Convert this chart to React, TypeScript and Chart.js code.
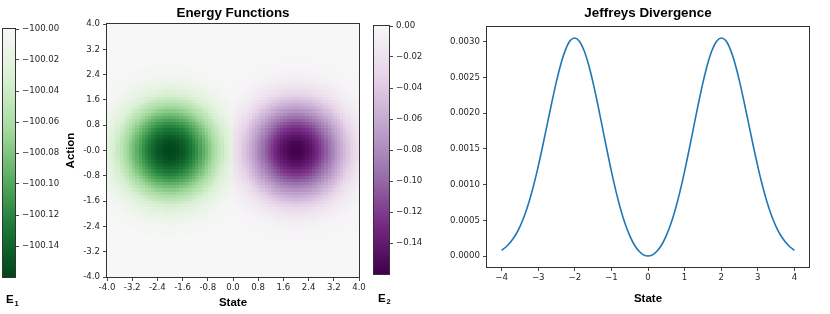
import React, { useEffect, useRef } from "react";
import { Chart, registerables } from "chart.js";

Chart.register(...registerables);

// ---------------- Energy Functions (heatmap) ----------------
const stateRange = [-4, 4];
const actionRange = [-4, 4];
const cellSize = 0.1;

const e1Center = [-2, 0];
const e2Center = [2, 0];

// radial profiles of the two energy wells
const profileRadius = [0, 0.25, 0.5, 0.75, 1, 1.25, 1.5, 1.75, 2, 2.25, 2.5, 2.75, 3, 3.5, 6];
const e1Profile = [
  -100.159, -100.155, -100.142, -100.123, -100.1, -100.076, -100.054, -100.034, -100.018,
  -100.009, -100.004, -100.0015, -100.0006, -100.0001, -100.0,
];
const e2Profile = [
  -0.159, -0.155, -0.142, -0.123, -0.1, -0.076, -0.054, -0.034, -0.018, -0.009, -0.004,
  -0.0015, -0.0006, -0.0001, 0.0,
];

const e1Limits = [-100.16, -100.0];
const e2Limits = [-0.16, 0.0];

const e1TickValues = [-100.14, -100.12, -100.1, -100.08, -100.06, -100.04, -100.02, -100.0];
const e2TickValues = [-0.14, -0.12, -0.1, -0.08, -0.06, -0.04, -0.02, 0.0];

const hmStateTicks = [-4, -3.2, -2.4, -1.6, -0.8, 0, 0.8, 1.6, 2.4, 3.2, 4];
const hmStateLabels = ["-4.0", "-3.2", "-2.4", "-1.6", "-0.8", "0.0", "0.8", "1.6", "2.4", "3.2", "4.0"];
const hmActionTicks = [-4, -3.2, -2.4, -1.6, -0.8, 0, 0.8, 1.6, 2.4, 3.2, 4];
const hmActionLabels = ["-4.0", "-3.2", "-2.4", "-1.6", "-0.8", "-0.0", "0.8", "1.6", "2.4", "3.2", "4.0"];

// ---------------- Jeffreys Divergence ----------------
const jdStates = [
  -4, -3.875, -3.75, -3.625, -3.5, -3.375, -3.25, -3.125, -3, -2.875, -2.75, -2.625, -2.5, -2.375,
  -2.25, -2.125, -2, -1.875, -1.75, -1.625, -1.5, -1.375, -1.25, -1.125, -1, -0.875, -0.75, -0.625,
  -0.5, -0.375, -0.25, -0.125, 0, 0.125, 0.25, 0.375, 0.5, 0.625, 0.75, 0.875, 1, 1.125, 1.25,
  1.375, 1.5, 1.625, 1.75, 1.875, 2, 2.125, 2.25, 2.375, 2.5, 2.625, 2.75, 2.875, 3, 3.125, 3.25,
  3.375, 3.5, 3.625, 3.75, 3.875, 4,
];
const jdValues = [
  0.00008, 0.00013, 0.0002, 0.000291, 0.000412, 0.000568, 0.00076, 0.00099, 0.001255, 0.001546,
  0.001852, 0.002158, 0.002446, 0.002696, 0.00289, 0.003013, 0.00305, 0.003005, 0.002878, 0.002679,
  0.002422, 0.002126, 0.001809, 0.00149, 0.001184, 0.000905, 0.000659, 0.000452, 0.000285,
  0.000158, 0.00007, 0.000017, 0.0,
  0.000017, 0.00007, 0.000158, 0.000285, 0.000452, 0.000659, 0.000905, 0.001184, 0.00149,
  0.001809, 0.002126, 0.002422, 0.002679, 0.002878, 0.003005, 0.00305, 0.003013, 0.00289,
  0.002696, 0.002446, 0.002158, 0.001852, 0.001546, 0.001255, 0.00099, 0.00076, 0.000568,
  0.000412, 0.000291, 0.0002, 0.00013, 0.00008,
];
const jdXTicks = [-4, -3, -2, -1, 0, 1, 2, 3, 4];
const jdXLabels = ["\u22124", "\u22123", "\u22122", "\u22121", "0", "1", "2", "3", "4"];
const jdYTicks = [0, 0.0005, 0.001, 0.0015, 0.002, 0.0025, 0.003];
const jdYLabels = ["0.0000", "0.0005", "0.0010", "0.0015", "0.0020", "0.0025", "0.0030"];
const jdXLimits = [-4.4, 4.4];
const jdYLimits = [-0.000153, 0.003203];

// ---------------- styling helpers ----------------
const TICK_FONT = { family: "'DejaVu Sans', sans-serif", size: 8.6 };
const LABEL_FONT = { family: "'Liberation Sans', Arial, sans-serif", size: 11.5, weight: "bold" as const };
const TICK_COLOR = "#262626";
const AXIS_COLOR = "#333333";

const PRGN = [
  "#40004b", "#762a83", "#9970ab", "#c2a5cf", "#e7d4e8", "#f7f7f7",
  "#d9f0d3", "#a6dba0", "#5aae61", "#1b7837", "#00441b",
];
function hexToRgb(h: string) {
  return [parseInt(h.slice(1, 3), 16), parseInt(h.slice(3, 5), 16), parseInt(h.slice(5, 7), 16)];
}
const PRGN_RGB = PRGN.map(hexToRgb);
function prgn(t: number) {
  const c = Math.max(0, Math.min(1, t)) * 10;
  const i = Math.min(9, Math.floor(c));
  const f = c - i;
  const a = PRGN_RGB[i];
  const b = PRGN_RGB[i + 1];
  const r = Math.round(a[0] + (b[0] - a[0]) * f);
  const g = Math.round(a[1] + (b[1] - a[1]) * f);
  const bl = Math.round(a[2] + (b[2] - a[2]) * f);
  return `rgb(${r},${g},${bl})`;
}
function e1Color(v: number) {
  return prgn(0.5 + (0.5 * (e1Limits[1] - v)) / (e1Limits[1] - e1Limits[0]));
}
function e2Color(v: number) {
  return prgn(0.5 - (0.5 * (e2Limits[1] - v)) / (e2Limits[1] - e2Limits[0]));
}
function profileAt(r: number, prof: number[]) {
  for (let k = 0; k < profileRadius.length - 1; k++) {
    if (r <= profileRadius[k + 1]) {
      const f = (r - profileRadius[k]) / (profileRadius[k + 1] - profileRadius[k]);
      return prof[k] + (prof[k + 1] - prof[k]) * f;
    }
  }
  return prof[prof.length - 1];
}

function fmtCb(v: number) {
  const s = v.toFixed(2);
  return s.startsWith("-") ? "\u2212" + s.slice(1) : s;
}

function titlePlugin(text: string, y: number) {
  return {
    id: "customTitle",
    afterDraw(chart: any) {
      const { ctx, chartArea } = chart;
      ctx.save();
      ctx.font = "bold 13.4px 'Liberation Sans', Arial, sans-serif";
      ctx.fillStyle = "#000";
      ctx.textAlign = "center";
      ctx.textBaseline = "middle";
      ctx.fillText(text, (chartArea.left + chartArea.right) / 2, y);
      ctx.restore();
    },
  };
}
const framePlugin = {
  id: "frame",
  afterDatasetsDraw(chart: any) {
    const { ctx, chartArea } = chart;
    ctx.save();
    ctx.strokeStyle = AXIS_COLOR;
    ctx.lineWidth = 1;
    ctx.strokeRect(
      Math.round(chartArea.left) - 0.5,
      Math.round(chartArea.top) - 0.5,
      Math.round(chartArea.right - chartArea.left) + 1,
      Math.round(chartArea.bottom - chartArea.top) + 1
    );
    ctx.restore();
  },
};
function subLabelPlugin(main: string, sub: string, x: number, baseline: number) {
  return {
    id: "subLabel",
    afterDraw(chart: any) {
      const { ctx } = chart;
      ctx.save();
      ctx.fillStyle = "#000";
      ctx.textAlign = "left";
      ctx.textBaseline = "alphabetic";
      ctx.font = "bold 11.5px 'Liberation Sans', Arial, sans-serif";
      ctx.fillText(main, x, baseline);
      const w = ctx.measureText(main).width;
      ctx.font = "bold 7.5px 'Liberation Sans', Arial, sans-serif";
      ctx.fillText(sub, x + w + 0.8, baseline + 2.5);
      ctx.restore();
    },
  };
}
function colorbarPlugin(colorFn: (v: number) => string) {
  return {
    id: "colorbarFill",
    beforeDatasetsDraw(chart: any) {
      const { ctx, chartArea, scales } = chart;
      const ys = scales.y;
      ctx.save();
      const top = Math.round(chartArea.top);
      const bottom = Math.round(chartArea.bottom);
      for (let py = top; py < bottom; py++) {
        ctx.fillStyle = colorFn(ys.getValueForPixel(py + 0.5));
        ctx.fillRect(chartArea.left, py, chartArea.right - chartArea.left, 1);
      }
      ctx.restore();
    },
  };
}

const heatmapPlugin = {
  id: "heatmapCells",
  beforeDatasetsDraw(chart: any) {
    const { ctx, chartArea, scales } = chart;
    const xs = scales.x;
    const ys = scales.y;
    ctx.save();
    ctx.beginPath();
    ctx.rect(chartArea.left, chartArea.top, chartArea.right - chartArea.left, chartArea.bottom - chartArea.top);
    ctx.clip();
    const nS = Math.round((stateRange[1] - stateRange[0]) / cellSize);
    const nA = Math.round((actionRange[1] - actionRange[0]) / cellSize);
    for (let i = 0; i < nS; i++) {
      const s0 = stateRange[0] + i * cellSize;
      const s1 = s0 + cellSize;
      const sc = (s0 + s1) / 2;
      const px0 = Math.round(xs.getPixelForValue(s0));
      const px1 = Math.round(xs.getPixelForValue(s1));
      for (let j = 0; j < nA; j++) {
        const a0 = actionRange[0] + j * cellSize;
        const a1 = a0 + cellSize;
        const ac = (a0 + a1) / 2;
        const py0 = Math.round(ys.getPixelForValue(a1));
        const py1 = Math.round(ys.getPixelForValue(a0));
        let color: string;
        if (sc < 0) {
          const r = Math.hypot(sc - e1Center[0], ac - e1Center[1]);
          color = e1Color(profileAt(r, e1Profile));
        } else {
          const r = Math.hypot(sc - e2Center[0], ac - e2Center[1]);
          color = e2Color(profileAt(r, e2Profile));
        }
        ctx.fillStyle = color;
        ctx.fillRect(px0, py0, px1 - px0, py1 - py0);
      }
    }
    ctx.restore();
  },
};

function tickGrid() {
  return {
    display: true,
    drawOnChartArea: false,
    drawTicks: true,
    tickLength: 4,
    tickColor: AXIS_COLOR,
    tickWidth: 0.9,
    color: AXIS_COLOR,
  };
}

function baseOptions(padding: any) {
  return {
    responsive: false,
    animation: false as const,
    devicePixelRatio: 1,
    layout: { padding },
    plugins: { legend: { display: false }, tooltip: { enabled: false }, title: { display: false } },
    events: [] as any[],
  };
}

export default function App() {
  const cb1Ref = useRef<HTMLCanvasElement>(null);
  const hmRef = useRef<HTMLCanvasElement>(null);
  const cb2Ref = useRef<HTMLCanvasElement>(null);
  const jdRef = useRef<HTMLCanvasElement>(null);

  useEffect(() => {
    const charts: Chart[] = [];

    // Left colorbar (E1)
    charts.push(
      new Chart(cb1Ref.current as HTMLCanvasElement, {
        type: "scatter",
        data: { datasets: [] },
        options: {
          ...baseOptions({ left: 3, right: 0, top: 29, bottom: 37 }),
          scales: {
            x: { display: false, min: 0, max: 1 },
            y: {
              position: "right",
              min: e1Limits[0],
              max: e1Limits[1],
              bounds: "data",
              afterBuildTicks: (s: any) => {
                s.ticks = e1TickValues.map((v) => ({ value: v }));
              },
              afterFit: (s: any) => {
                s.width = 49;
              },
              border: { display: false },
              grid: tickGrid(),
              ticks: {
                autoSkip: false,
                maxRotation: 0,
                padding: 3,
                color: TICK_COLOR,
                font: TICK_FONT,
                callback: (_v: any, i: number) => fmtCb(e1TickValues[i]),
              },
            },
          },
        } as any,
        plugins: [colorbarPlugin(e1Color), framePlugin, subLabelPlugin("E", "1", 6, 303)],
      })
    );

    // Heatmap
    charts.push(
      new Chart(hmRef.current as HTMLCanvasElement, {
        type: "scatter",
        data: { datasets: [] },
        options: {
          ...baseOptions({ left: 0, right: 11, top: 24, bottom: 0 }),
          scales: {
            x: {
              type: "linear",
              min: stateRange[0],
              max: stateRange[1],
              bounds: "data",
              afterBuildTicks: (s: any) => {
                s.ticks = hmStateTicks.map((v) => ({ value: v }));
              },
              afterFit: (s: any) => {
                s.height = 37;
              },
              border: { display: false },
              grid: tickGrid(),
              ticks: {
                autoSkip: false,
                maxRotation: 0,
                padding: 2,
                color: TICK_COLOR,
                font: TICK_FONT,
                callback: (_v: any, i: number) => hmStateLabels[i],
              },
              title: {
                display: true,
                text: "State",
                color: "#000",
                font: LABEL_FONT,
                padding: { top: 0, bottom: 4 },
              },
            },
            y: {
              type: "linear",
              min: actionRange[0],
              max: actionRange[1],
              bounds: "data",
              afterBuildTicks: (s: any) => {
                s.ticks = hmActionTicks.map((v) => ({ value: v }));
              },
              afterFit: (s: any) => {
                s.width = 47;
              },
              border: { display: false },
              grid: tickGrid(),
              ticks: {
                autoSkip: false,
                padding: 3,
                color: TICK_COLOR,
                font: TICK_FONT,
                callback: (_v: any, i: number) => hmActionLabels[i],
              },
              title: {
                display: true,
                text: "Action",
                color: "#000",
                font: LABEL_FONT,
                padding: { top: 4, bottom: 0 },
              },
            },
          },
        } as any,
        plugins: [heatmapPlugin, framePlugin, titlePlugin("Energy Functions", 13.3)],
      })
    );

    // Right colorbar (E2)
    charts.push(
      new Chart(cb2Ref.current as HTMLCanvasElement, {
        type: "scatter",
        data: { datasets: [] },
        options: {
          ...baseOptions({ left: 4, right: 0, top: 26, bottom: 40 }),
          scales: {
            x: { display: false, min: 0, max: 1 },
            y: {
              position: "right",
              min: e2Limits[0],
              max: e2Limits[1],
              bounds: "data",
              afterBuildTicks: (s: any) => {
                s.ticks = e2TickValues.map((v) => ({ value: v }));
              },
              afterFit: (s: any) => {
                s.width = 41;
              },
              border: { display: false },
              grid: tickGrid(),
              ticks: {
                autoSkip: false,
                maxRotation: 0,
                padding: 3,
                color: TICK_COLOR,
                font: TICK_FONT,
                callback: (_v: any, i: number) => fmtCb(e2TickValues[i]),
              },
            },
          },
        } as any,
        plugins: [colorbarPlugin(e2Color), framePlugin, subLabelPlugin("E", "2", 8, 301.5)],
      })
    );

    // Jeffreys divergence line chart
    charts.push(
      new Chart(jdRef.current as HTMLCanvasElement, {
        type: "line",
        data: {
          datasets: [
            {
              data: jdStates.map((s, i) => ({ x: s, y: jdValues[i] })),
              borderColor: "#1f77b4",
              borderWidth: 1.6,
              pointRadius: 0,
              fill: false,
              cubicInterpolationMode: "monotone",
            },
          ],
        },
        options: {
          ...baseOptions({ left: 0, right: 21, top: 27, bottom: 0 }),
          scales: {
            x: {
              type: "linear",
              min: jdXLimits[0],
              max: jdXLimits[1],
              bounds: "data",
              afterBuildTicks: (s: any) => {
                s.ticks = jdXTicks.map((v) => ({ value: v }));
              },
              afterFit: (s: any) => {
                s.height = 47;
              },
              border: { display: false },
              grid: tickGrid(),
              ticks: {
                autoSkip: false,
                maxRotation: 0,
                padding: 2,
                color: TICK_COLOR,
                font: TICK_FONT,
                callback: (_v: any, i: number) => jdXLabels[i],
              },
              title: {
                display: true,
                text: "State",
                color: "#000",
                font: LABEL_FONT,
                padding: { top: 0, bottom: 8 },
              },
            },
            y: {
              type: "linear",
              min: jdYLimits[0],
              max: jdYLimits[1],
              bounds: "data",
              afterBuildTicks: (s: any) => {
                s.ticks = jdYTicks.map((v) => ({ value: v }));
              },
              afterFit: (s: any) => {
                s.width = 57;
              },
              border: { display: false },
              grid: tickGrid(),
              ticks: {
                autoSkip: false,
                padding: 3,
                color: TICK_COLOR,
                font: TICK_FONT,
                callback: (_v: any, i: number) => jdYLabels[i],
              },
            },
          },
        } as any,
        plugins: [framePlugin, titlePlugin("Jeffreys Divergence", 13.3)],
      })
    );

    return () => charts.forEach((c) => c.destroy());
  }, []);

  const cv = (left: number, width: number) => ({
    position: "absolute" as const,
    left,
    top: 0,
    width,
    height: 314,
  });

  return (
    <div style={{ position: "absolute", left: 0, top: 0, width: 830, height: 314, background: "#fff", overflow: "hidden" }}>
      <canvas ref={hmRef} width={310} height={314} style={cv(60, 310)} />
      <canvas ref={cb1Ref} width={64} height={314} style={cv(0, 64)} />
      <canvas ref={cb2Ref} width={60} height={314} style={cv(370, 60)} />
      <canvas ref={jdRef} width={400} height={314} style={cv(430, 400)} />
    </div>
  );
}
